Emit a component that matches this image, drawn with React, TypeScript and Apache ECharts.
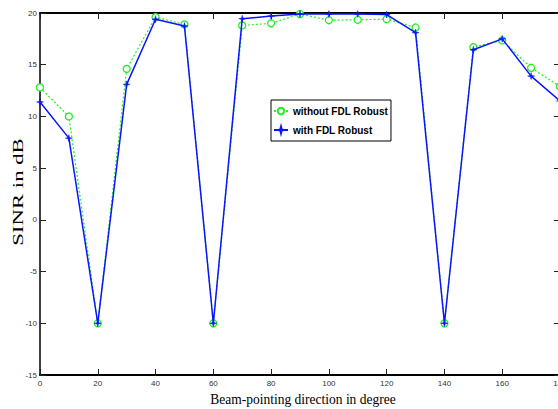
import React, { useEffect, useRef } from "react";
import * as echarts from "echarts";

const angles = [0, 10, 20, 30, 40, 50, 60, 70, 80, 90, 100, 110, 120, 130, 140, 150, 160, 170, 180];
const withoutFDL = [12.8, 10.0, -10.0, 14.6, 19.6, 18.9, -10.0, 18.8, 19.0, 19.9, 19.3, 19.35, 19.4, 18.6, -10.0, 16.7, 17.35, 14.7, 12.9];
const withFDL = [11.4, 7.9, -10.0, 13.1, 19.4, 18.75, -10.0, 19.45, 19.7, 19.9, 19.9, 19.9, 19.85, 18.1, -10.0, 16.45, 17.5, 13.9, 11.5];
const xTicks = { min: 0, max: 180, interval: 20 };
const yTicks = { min: -15, max: 20, interval: 5 };

const seriesNames = ["without FDL Robust", "with FDL Robust"];

export default function App() {
  const ref = useRef<HTMLDivElement>(null);
  useEffect(() => {
    if (!ref.current) return;
    const chart = echarts.init(ref.current, null, { renderer: "svg" });
    const tickLabel = { fontSize: 8, color: "#333", fontFamily: "Liberation Sans, Arial, sans-serif" };
    const axisCommon = {
      type: "value" as const,
      splitLine: { show: false },
      axisTick: { inside: true, length: 6, lineStyle: { color: "#222", width: 1 } },
    };
    chart.setOption({
      animation: false,
      backgroundColor: "#fff",
      grid: { left: 40, right: -2, top: 13, bottom: 34, outerBoundsMode: "none", containLabel: false },
      xAxis: [
        {
          ...axisCommon,
          ...xTicks,
          position: "bottom",
          axisLine: { show: true, onZero: false, lineStyle: { color: "#000", width: 2 } },
          axisLabel: { ...tickLabel, margin: 4 },
        },
        {
          ...axisCommon,
          ...xTicks,
          position: "top",
          axisLine: { show: true, onZero: false, lineStyle: { color: "#000", width: 2 } },
          axisLabel: { show: false },
        },
      ],
      yAxis: [
        {
          ...axisCommon,
          ...yTicks,
          position: "left",
          axisLine: { show: true, onZero: false, lineStyle: { color: "#000", width: 1.5 } },
          axisLabel: { ...tickLabel, margin: 3 },
        },
        {
          ...axisCommon,
          ...yTicks,
          position: "right",
          axisLine: { show: true, onZero: false, lineStyle: { color: "#000", width: 1.5 } },
          axisLabel: { show: false },
        },
      ],
      legend: {
        orient: "vertical",
        left: 271,
        top: 100,
        padding: [6, 3, 6, 2],
        itemGap: 9,
        itemWidth: 14,
        itemHeight: 8,
        borderColor: "#000",
        borderWidth: 1,
        backgroundColor: "#fff",
        textStyle: { fontSize: 10, fontWeight: "bold", color: "#000", fontFamily: "Liberation Sans, Arial, sans-serif" },
        data: seriesNames,
      },
      series: [
        {
          name: seriesNames[0],
          type: "line",
          data: angles.map((a, i) => [a, withoutFDL[i]]),
          symbol: "circle",
          symbolSize: 7,
          itemStyle: { color: "#fff", borderColor: "#22ee22", borderWidth: 1.3 },
          lineStyle: { color: "#22ee22", width: 1.2, type: [2, 2] },
          z: 2,
        },
        {
          name: seriesNames[1],
          type: "line",
          data: angles.map((a, i) => [a, withFDL[i]]),
          symbol: "path://M5,0 L6,4 L10,5 L6,6 L5,10 L4,6 L0,5 L4,4 Z",
          symbolSize: 7,
          itemStyle: { color: "#0a14ff", borderColor: "#0a14ff", borderWidth: 0.5 },
          lineStyle: { color: "#0a14ff", width: 1.5 },
          z: 3,
        },
      ],
      graphic: [
        {
          type: "text",
          x: 303,
          y: 399,
          scaleX: 0.9,
          style: {
            text: "Beam-pointing direction in degree",
            fontSize: 15,
            fontFamily: "Liberation Serif, Times New Roman, serif",
            fill: "#000",
            textAlign: "center",
            textVerticalAlign: "middle",
          },
        },
        {
          type: "text",
          x: 18,
          y: 192,
          rotation: Math.PI / 2,
          scaleX: 1.2,
          scaleY: 0.8,
          style: {
            text: "SINR in dB",
            fontSize: 19,
            fontFamily: "Liberation Serif, Times New Roman, serif",
            fill: "#000",
            textAlign: "center",
            textVerticalAlign: "middle",
          },
        },
      ],
    });
    return () => chart.dispose();
  }, []);
  return <div ref={ref} style={{ width: 558, height: 409, position: "absolute", left: 0, top: 0 }} />;
}
